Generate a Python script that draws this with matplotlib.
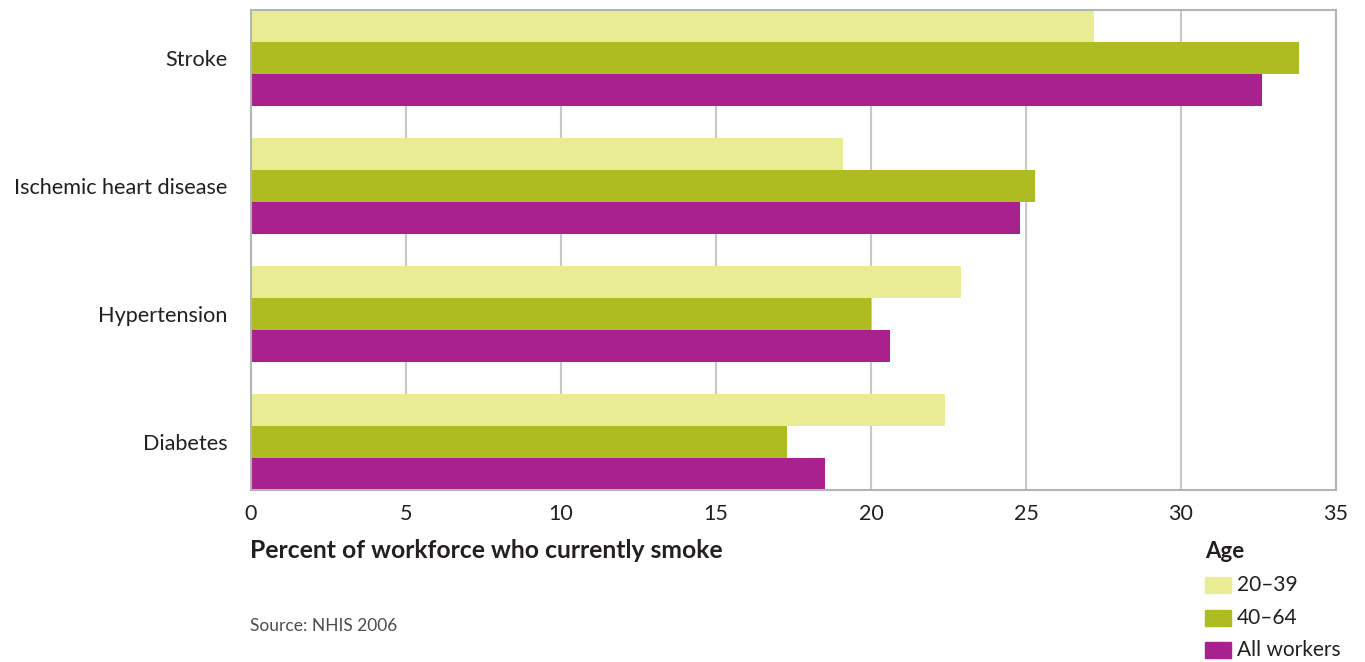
import matplotlib.pyplot as plt
from matplotlib.patches import Rectangle
import numpy as np

plt.rcParams['font.family'] = ['Lato', 'DejaVu Sans']

conditions = ["Stroke", "Ischemic heart disease", "Hypertension", "Diabetes"]
age_groups = ["20\u201339", "40\u201364", "All workers"]
pct_20_39 = [27.2, 19.1, 22.9, 22.4]
pct_40_64 = [33.8, 25.3, 20.0, 17.3]
pct_all = [32.6, 24.8, 20.6, 18.5]
x_ticks = [0, 5, 10, 15, 20, 25, 30, 35]

colors = ["#eaec94", "#afbc21", "#a8218e"]
series = [pct_20_39, pct_40_64, pct_all]

fig = plt.figure(figsize=(13.65, 6.62), dpi=100)
ax = fig.add_axes([251 / 1365, 1 - 490 / 662, 1085 / 1365, 480 / 662])

h = 0.25
ypos = np.arange(len(conditions))
for i, (vals, col) in enumerate(zip(series, colors)):
    ax.barh(ypos + (i - 1) * h, vals, height=h, color=col, zorder=2)

ax.set_ylim(len(conditions) - 1 + 1.5 * h, -1.5 * h)
ax.set_xlim(0, 35)
ax.set_xticks(x_ticks)
ax.set_xticklabels([str(t) for t in x_ticks], fontsize=15.5, color="#231f20")
ax.set_yticks(ypos)
ax.set_yticklabels(conditions, fontsize=15.6, color="#231f20")
ax.tick_params(length=0, pad=17, axis='y')
ax.tick_params(length=0, pad=10, axis='x')
ax.grid(axis='x', color="#c8c8c8", linewidth=1.5, zorder=1)
for s in ax.spines.values():
    s.set_color("#b4b4b4")
    s.set_linewidth(1.5)

fig.text(250 / 1365, 1 - 551 / 662, "Percent of workforce who currently smoke",
         fontsize=17.8, fontweight='bold', color="#231f20", va='center', ha='left')
fig.text(250 / 1365, 1 - 626 / 662, "Source: NHIS 2006",
         fontsize=12.5, color="#4d4d4f", va='center', ha='left')

# legend, drawn by hand below the axis
fig.text(1205 / 1365, 1 - 551 / 662, "Age", fontsize=16, fontweight='bold',
         color="#231f20", va='center', ha='left')
for i, (lab, col) in enumerate(zip(age_groups, colors)):
    yc = 585 + i * 32.5
    fig.patches.append(Rectangle((1205 / 1365, 1 - (yc + 8) / 662), 26 / 1365, 16 / 662,
                                 transform=fig.transFigure, color=col))
    fig.text(1237 / 1365, 1 - yc / 662, lab, fontsize=15, color="#231f20",
             va='center', ha='left')

fig.savefig("out.png", dpi=100)
